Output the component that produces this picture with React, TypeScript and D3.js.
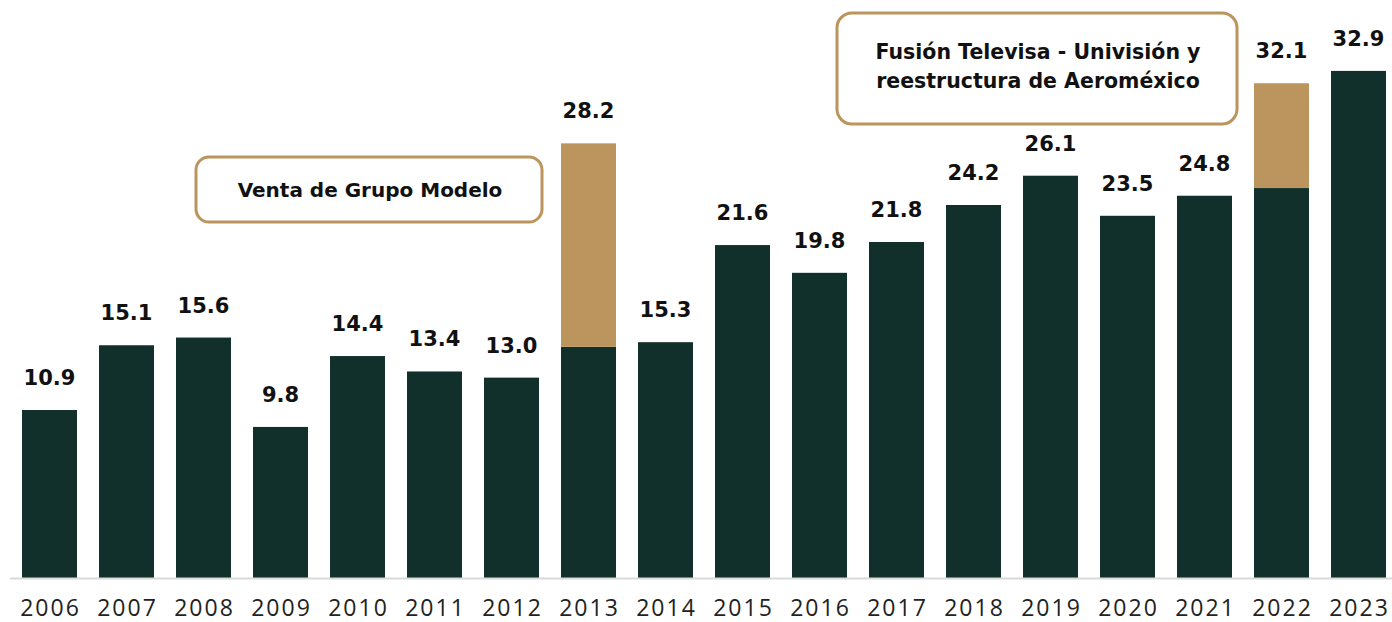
import * as d3 from 'd3';

const years = ['2006', '2007', '2008', '2009', '2010', '2011', '2012', '2013', '2014', '2015', '2016', '2017', '2018', '2019', '2020', '2021', '2022', '2023'];
const baseValues = [10.9, 15.1, 15.6, 9.8, 14.4, 13.4, 13.0, 15.0, 15.3, 21.6, 19.8, 21.8, 24.2, 26.1, 23.5, 24.8, 25.3, 32.9];
const extraValues = [0, 0, 0, 0, 0, 0, 0, 13.2, 0, 0, 0, 0, 0, 0, 0, 0, 6.8, 0];
const totalLabels = ['10.9', '15.1', '15.6', '9.8', '14.4', '13.4', '13.0', '28.2', '15.3', '21.6', '19.8', '21.8', '24.2', '26.1', '23.5', '24.8', '32.1', '32.9'];

const W = 1392;
const H = 622;
const DARK = '#12302b';
const TAN = '#bb955d';
const FONT = '"Open Sans", Lato, sans-serif';
const BOLD = '"DejaVu Sans", "Open Sans", sans-serif';

const App = () => {
  const x = d3.scaleBand<string>()
    .domain(years)
    .range([11, 1397])
    .paddingInner(0.286)
    .paddingOuter(0.143);
  const y = d3.scaleLinear().domain([0, 37.5]).range([578, 0]);
  const bw = x.bandwidth();

  return (
    <svg width={W} height={H} style={{ position: 'fixed', left: 0, top: 0, background: '#fff' }}>
      {years.map((yr, i) => {
        const x0 = x(yr) as number;
        const base = baseValues[i];
        const total = base + extraValues[i];
        return (
          <g key={yr}>
            <rect x={x0} y={y(base)} width={bw} height={y(0) - y(base)} fill={DARK} />
            {extraValues[i] > 0 && (
              <rect x={x0} y={y(total)} width={bw} height={y(base) - y(total)} fill={TAN} />
            )}
            <text x={x0 + bw / 2} y={y(total) - 25} textAnchor="middle"
              fontFamily={BOLD} fontWeight={700} fontSize={21} fill="#111">
              {totalLabels[i]}
            </text>
            <text x={x0 + bw / 2 + 1} y={616} textAnchor="middle" letterSpacing={2}
              fontFamily={FONT} fontSize={23} fill="#222">
              {yr}
            </text>
          </g>
        );
      })}
      <line x1={10} x2={W} y1={578.5} y2={578.5} stroke="#d9d9d9" strokeWidth={2} />

      <rect x={196} y={157} width={346} height={65} rx={13} fill="#fff" stroke={TAN} strokeWidth={3} />
      <text x={370} y={197} textAnchor="middle" fontFamily={BOLD} fontWeight={700} fontSize={20} fill="#111">
        Venta de Grupo Modelo
      </text>

      <rect x={837} y={13} width={400} height={111} rx={15} fill="#fff" stroke={TAN} strokeWidth={3} />
      <text textAnchor="middle" fontFamily={BOLD} fontWeight={700} fontSize={20.5} fill="#111">
        <tspan x={1038} y={59}>Fusión Televisa - Univisión y</tspan>
        <tspan x={1038} y={88}>reestructura de Aeroméxico</tspan>
      </text>
    </svg>
  );
};

export default App;
